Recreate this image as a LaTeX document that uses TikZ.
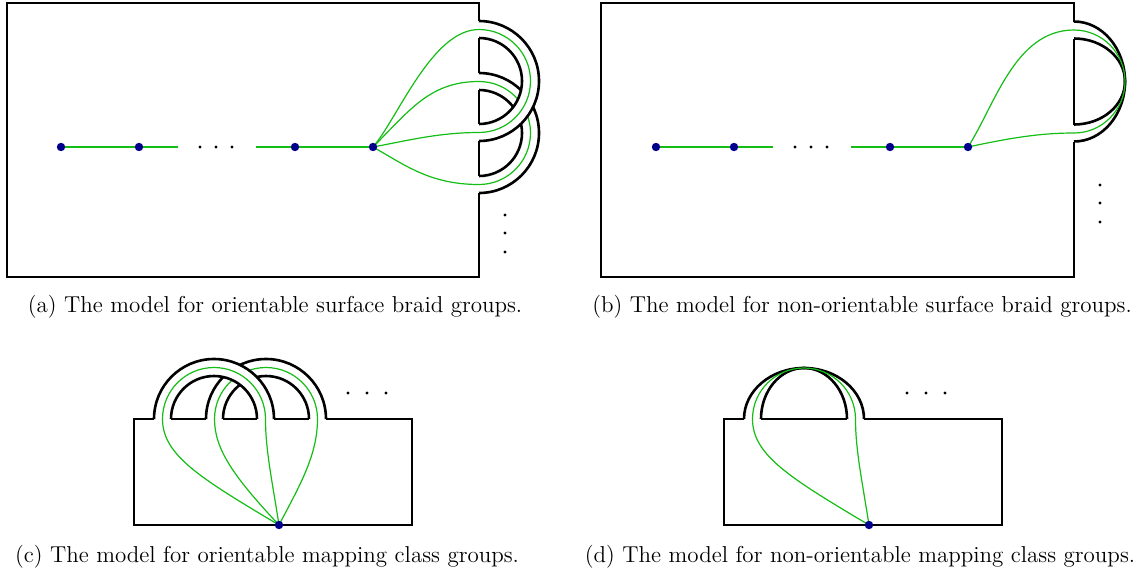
\documentclass[tikz,border=0pt]{standalone}
\usepackage{xcolor}
\usepackage{tikz}
\usetikzlibrary{positioning, calc}
\definecolor{arcgreen}{RGB}{20, 190, 20}
\definecolor{punctblue}{RGB}{0, 0, 140}

\tikzset{
  surf/.style={line width=1.3pt, black},
  arcline/.style={line width=0.6pt, arcgreen},
  puncture/.style={circle, fill=punctblue, inner sep=0pt, minimum size=4.2pt},
  capt/.style={font=\fontsize{11.5}{13.5}\selectfont, inner sep=0pt}
}

\begin{document}
\begin{tikzpicture}[x=0.5pt, y=-0.5pt]
    \useasboundingbox (0,0) rectangle (1140,574);

    % (a) orientable surface braid groups
    \coordinate (a1) at (61,147);
    \coordinate (a2) at (139,147);
    \coordinate (a3) at (295,147);
    \coordinate (a4) at (373,147);
    \coordinate (a2e) at (178,147);
    \coordinate (a3s) at (256,147);
    \draw[surf] (479,21) -- (479,3) -- (7,3) -- (7,277) -- (479,277) -- (479,193);
    \draw[surf] (479,38) -- (479,73) (479,90) -- (479,124) (479,141) -- (479,176);
    \draw[arcline] (a1) -- (a2) -- (a2e);
    \draw[arcline] (a3s) -- (a3) -- (a4);
    \foreach \x in {200,216,232} \fill (\x,147) circle (1.6);
    \foreach \y in {215,233,252} \fill (505,\y) circle (1.6);
    % lower handle first, the upper one passes over it
    \fill[white] (479,73) arc[start angle=-90, end angle=90, radius=60] -- (479,176)
        arc[start angle=90, end angle=-90, radius=43] -- cycle;
    \draw[surf] (479,73) arc[start angle=-90, end angle=90, radius=60];
    \draw[surf] (479,90) arc[start angle=-90, end angle=90, radius=43];
    \draw[arcline] (a4) .. controls (410,110) and (430,81.5) .. (479,81.5)
        arc[start angle=-90, end angle=90, radius=51.5] .. controls (430,184.5) and (405,165) .. (a4);
    \fill[white] (479,21) arc[start angle=-90, end angle=90, radius=60] -- (479,124)
        arc[start angle=90, end angle=-90, radius=43] -- cycle;
    \draw[surf] (479,21) arc[start angle=-90, end angle=90, radius=60];
    \draw[surf] (479,38) arc[start angle=-90, end angle=90, radius=43];
    \draw[arcline] (a4) .. controls (398,118) and (432,29.5) .. (479,29.5)
        arc[start angle=-90, end angle=90, radius=51.5] .. controls (440,132.5) and (410,140) .. (a4);

    % (b) non-orientable surface braid groups
    \coordinate (b1) at (656,147);
    \coordinate (b2) at (734,147);
    \coordinate (b3) at (890,147);
    \coordinate (b4) at (968,147);
    \coordinate (b2e) at (773,147);
    \coordinate (b3s) at (851,147);
    \draw[surf] (1074,21.5) -- (1074,3) -- (601,3) -- (601,277) -- (1074,277) -- (1074,141.5);
    \draw[surf] (1074,38.5) -- (1074,124.5);
    \draw[arcline] (b1) -- (b2) -- (b2e);
    \draw[arcline] (b3s) -- (b3) -- (b4);
    \foreach \x in {795,811,827} \fill (\x,147) circle (1.6);
    \foreach \y in {185,203,222} \fill (1100,\y) circle (1.6);
    \draw[surf] (1074,21.5) arc[start angle=-90, end angle=90, x radius=51, y radius=60];
    \draw[surf] (1074,38.5) arc[start angle=-90, end angle=90, x radius=51, y radius=43];
    \draw[arcline] (b4) .. controls (995,105) and (1015,30) .. (1074,30)
        arc[start angle=-90, end angle=90, x radius=51, y radius=51.5] .. controls (1040,133) and (1010,138) .. (b4);

    % (c) orientable mapping class groups
    \coordinate (c0) at (279,525);
    \draw[surf] (154,419) -- (134,419) -- (134,525) -- (412,525) -- (412,419) -- (326,419);
    \draw[surf] (171,419) -- (206,419) (223,419) -- (257,419) (274,419) -- (309,419);
    \foreach \x in {348,367,386} \fill (\x,393) circle (1.6);
    \fill[white] (206,419) arc[start angle=180, end angle=360, radius=60] -- (309,419)
        arc[start angle=360, end angle=180, radius=43] -- cycle;
    \draw[surf] (206,419) arc[start angle=180, end angle=360, radius=60];
    \draw[surf] (223,419) arc[start angle=180, end angle=360, radius=43];
    \draw[arcline] (c0) .. controls (235,478) and (214.5,450) .. (214.5,419)
        arc[start angle=180, end angle=360, radius=51.5] .. controls (317.5,455) and (300,485) .. (c0);
    \fill[white] (154,419) arc[start angle=180, end angle=360, radius=60] -- (257,419)
        arc[start angle=360, end angle=180, radius=43] -- cycle;
    \draw[surf] (154,419) arc[start angle=180, end angle=360, radius=60];
    \draw[surf] (171,419) arc[start angle=180, end angle=360, radius=43];
    \draw[arcline] (c0) .. controls (200,478) and (162.5,455) .. (162.5,419)
        arc[start angle=180, end angle=360, radius=51.5] .. controls (265.5,450) and (272,480) .. (c0);

    % (d) non-orientable mapping class groups
    \coordinate (d0) at (869,525);
    \draw[surf] (744,419) -- (724,419) -- (724,525) -- (1002,525) -- (1002,419) -- (864,419);
    \draw[surf] (761,419) -- (847,419);
    \foreach \x in {907,926,945} \fill (\x,393) circle (1.6);
    \draw[surf] (744,419) arc[start angle=180, end angle=360, x radius=60, y radius=51];
    \draw[surf] (761,419) arc[start angle=180, end angle=360, x radius=43, y radius=51];
    \draw[arcline] (d0) .. controls (790,478) and (752.5,455) .. (752.5,419)
        arc[start angle=180, end angle=360, x radius=51.5, y radius=51] .. controls (855.5,450) and (862,480) .. (d0);

    % punctures on top
    \foreach \p in {a1,a2,a3,a4,b1,b2,b3,b4,c0,d0}
        \node[puncture] at (\p) {};

    \node[capt] (capa) at (275,307) {(a) The model for orientable surface braid groups.};
    \node[capt] (capb) at (862,307) {(b) The model for non-orientable surface braid groups.};
    \node[capt] (capc) at (267,557) {(c) The model for orientable mapping class groups.};
    \node[capt] (capd) at (860,557) {(d) The model for non-orientable mapping class groups.};
\end{tikzpicture}
\end{document}
